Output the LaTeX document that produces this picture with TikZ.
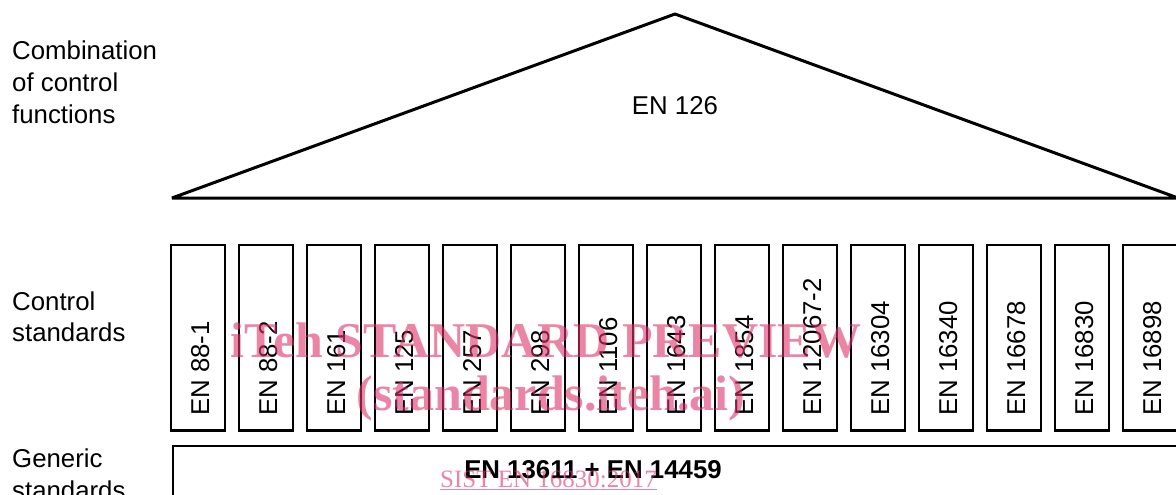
\documentclass[tikz,border=0pt]{standalone}
\usepackage{fontspec}
\setmainfont{Liberation Sans}
\newfontfamily\wmfont{Liberation Serif}
\definecolor{wmpink}{RGB}{222,52,106}
\begin{document}
\begin{tikzpicture}[x=1pt,y=-1pt,
  lab/.style={font=\fontsize{25.8}{31}\selectfont, inner sep=0pt, anchor=base west},
  stdbox/.style={draw, line width=2.4pt, minimum width=54pt, minimum height=185.5pt, inner sep=0pt},
  stdtext/.style={font=\fontsize{25.8}{31}\selectfont, inner sep=0pt, rotate=90, anchor=base west},
  tri/.style={draw, line width=3pt, line join=bevel},
  wm/.style={text=wmpink, text opacity=0.6, inner sep=0pt, anchor=base}]
\useasboundingbox (0,0) rectangle (1176,495);
\clip (0,0) rectangle (1176,495);
% left labels
\node[lab] (l1a) at (12,60) {Combination};
\node[lab] (l1b) at (12,92) {of control};
\node[lab] (l1c) at (12,124) {functions};
\node[lab] (l2a) at (12,310) {Control};
\node[lab] (l2b) at (12,341) {standards};
\node[lab] (l3a) at (12,467) {Generic};
\node[lab] (l3b) at (12,499) {standards};
% triangle
\coordinate (apex) at (675,14);
\coordinate (bl) at (172,198);
\coordinate (br) at (1178,198);
\draw[tri] (bl) -- (apex) -- (br) -- cycle;
\node[lab, anchor=base] (en126) at (675,114) {EN 126};
% control standard boxes
\foreach \i/\t in {1/EN 88-1,2/EN 88-2,3/EN 161,4/EN 125,5/EN 257,6/EN 298,7/EN 1106,8/EN 1643,9/EN 1854,10/EN 12067-2,11/EN 16304,12/EN 16340,13/EN 16678,14/EN 16830,15/EN 16898}{
  \node[stdbox] (b\i) at ({198+68*(\i-1)},337.75) {};
  \node[stdtext] (t\i) at ({209+68*(\i-1)},416) {\t};
}
% generic box
\node[draw, line width=2.4pt, anchor=north west, minimum width=1100pt, minimum height=100pt, inner sep=0pt] (gen) at (171.5,445) {};
\node[lab, anchor=base, font=\fontsize{25.8}{31}\selectfont\bfseries] (gent) at (593,478) {EN 13611 + EN 14459};
% watermark
\node[wm, font=\wmfont\fontsize{50}{60}\selectfont\bfseries] (wm1) at (546,357) {iTeh STANDARD PREVIEW};
\node[wm, font=\wmfont\fontsize{50}{60}\selectfont\bfseries] (wm2) at (551,410) {(standards.iteh.ai)};
\node[wm, font=\wmfont\fontsize{25}{30}\selectfont] (wm3) at (548.5,487) {\underline{SIST EN 16830:2017}};
\end{tikzpicture}
\end{document}
